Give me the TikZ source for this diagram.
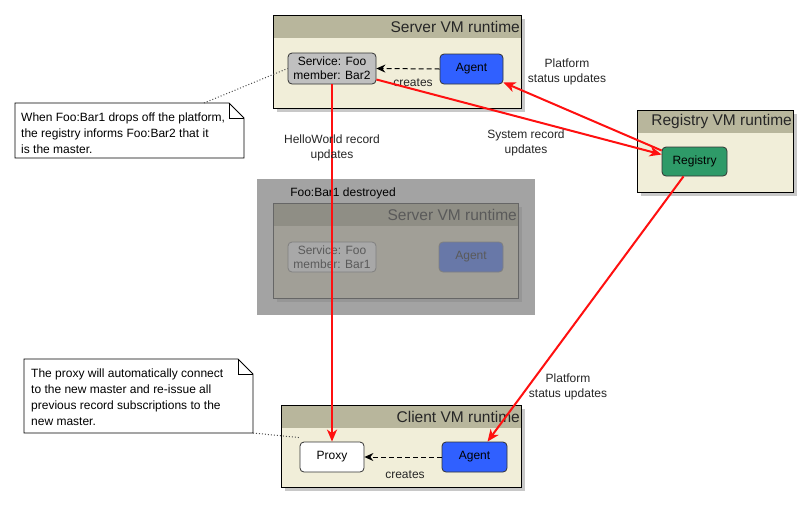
\documentclass[tikz,border=0pt]{standalone}
\usepackage{fontspec}
\setmainfont{Liberation Sans}
\usetikzlibrary{arrows.meta,calc}
\definecolor{hdr}{HTML}{B8B69C}
\definecolor{bodyc}{HTML}{F1EED9}
\definecolor{shd}{HTML}{C8C8C8}
\definecolor{agentblue}{HTML}{3060FF}
\definecolor{svcgray}{HTML}{C0C0C0}
\definecolor{reggreen}{HTML}{2E9A68}
\definecolor{deadbg}{HTML}{A3A3A3}
\definecolor{deadshd}{HTML}{969696}
\definecolor{deadhdr}{HTML}{8F8E85}
\definecolor{deadbody}{HTML}{A19F97}
\definecolor{deadsvc}{HTML}{A8A8A8}
\definecolor{deadagent}{HTML}{6878A8}
\definecolor{deadtext}{HTML}{5A5A5A}
\definecolor{redline}{HTML}{FF1010}
\begin{document}
\begin{tikzpicture}[x=1pt,y=-1pt,
  font=\fontsize{12}{14}\selectfont,
  container/.style={draw=black, line width=1, fill=bodyc, anchor=north west, inner sep=0,
    path picture={\fill[#1] (path picture bounding box.north west) rectangle ([yshift=-22pt]path picture bounding box.north east);}},
  container/.default=hdr,
  hdrtext/.style={anchor=north east, inner sep=0, font=\fontsize{15.5}{17}\selectfont, text=black!85, minimum height=23},
  box/.style={draw=black!80, rounded corners=4, line width=0.8, minimum height=30, align=center, inner sep=1},
  lbl/.style={align=center, font=\fontsize{12}{15}\selectfont, text=black!85},
  notetext/.style={anchor=north west, align=left, inner sep=0, font=\fontsize{12}{15.7}\selectfont},
  redarrow/.style={draw=redline, line width=2, -{Stealth[length=12, width=10, inset=3.5]}},
  dasharrow/.style={draw=black, line width=1, dash pattern=on 5pt off 3pt, -{Stealth[length=9, width=8, inset=3]}},
  dotline/.style={draw=black!70, line width=1, dash pattern=on 1pt off 2pt}
]
\useasboundingbox (0,0) rectangle (810,507);
\fill[white] (0,0) rectangle (810,507);

% ---------- Server VM runtime ----------
\fill[shd] (277,19) rectangle (525,112);
\node[container, minimum width=248, minimum height=93] (srv) at (273,15) {};
\node[hdrtext] at ([xshift=-2pt]srv.north east) {Server VM runtime};
\node[box, fill=svcgray, minimum width=88, minimum height=31] (svc) at (332,68.5) {Service: Foo\\member: Bar2};
\node[box, fill=agentblue, minimum width=63] (agent) at (471.5,69) {Agent};
\draw[dasharrow] (agent.west) -- (svc.east);
\node[lbl] (cr1) at (413,83) {creates};

% ---------- Registry VM runtime ----------
\fill[shd] (641,114) rectangle (797,196);
\node[container, minimum width=156, minimum height=82] (regvm) at (637,110) {};
\node[hdrtext] at ([xshift=-2pt]regvm.north east) {Registry VM runtime};
\node[box, fill=reggreen, minimum width=65, minimum height=29] (reg) at (694.5,161.5) {Registry};

% ---------- destroyed server ----------
\fill[deadbg] (257,179) rectangle (535,315);
\node[lbl, text=black] (dlbl) at (343,193) {Foo:Bar1 destroyed};
\fill[deadshd] (277,207) rectangle (522,302);
\node[container=deadhdr, draw=black!60, fill=deadbody, minimum width=245, minimum height=95] (dsrv) at (273,203) {};
\node[hdrtext, text=deadtext] at ([xshift=-2pt]dsrv.north east) {Server VM runtime};
\node[box, draw=black!50, fill=deadsvc, text=deadtext, minimum width=88] (dsvc) at (332,257) {Service: Foo\\member: Bar1};
\node[box, draw=black!50, fill=deadagent, text=deadtext, minimum width=64] (dagent) at (471,257) {Agent};

% ---------- Client VM runtime ----------
\fill[shd] (285,409) rectangle (525,491);
\node[container, minimum width=240, minimum height=82] (cli) at (281,405) {};
\node[hdrtext] at ([xshift=-2pt]cli.north east) {Client VM runtime};
\node[box, fill=white, minimum width=64] (proxy) at (332,457) {Proxy};
\node[box, fill=agentblue, minimum width=65] (cagent) at (474.5,457) {Agent};
\draw[dasharrow] (cagent.west) -- (proxy.east);
\node[lbl] (cr2) at (405,475) {creates};

% ---------- notes ----------
\draw[line width=0.8, fill=white] (15,103) -- (229,103) -- (244,118) -- (244,158) -- (15,158) -- cycle;
\draw[line width=0.8] (229,103) -- (229,118) -- (244,118);
\node[notetext] (n1) at (21,113) {When Foo:Bar1 drops off the platform,\\the registry informs Foo:Bar2 that it\\is the master.};
\coordinate (n1c) at (204,103);
\draw[dotline] (n1c) -- (svc.west);

\draw[line width=0.8, fill=white] (24,359) -- (238,359) -- (253,374) -- (253,433) -- (24,433) -- cycle;
\draw[line width=0.8] (238,359) -- (238,374) -- (253,374);
\node[notetext] (n2) at (31,369) {The proxy will automatically connect\\to the new master and re-issue all\\previous record subscriptions to the\\new master.};
\coordinate (n2c) at (253,433);
\draw[dotline] (n2c) -- ([yshift=4pt]proxy.north west);

% ---------- red connectors ----------
\draw[redarrow] (svc.south) -- (proxy.north);
\node[lbl] (l1) at (332,148) {HelloWorld record\\updates};
\draw[redarrow] ([yshift=-11pt]svc.east) -- ([yshift=7pt]reg.west);
\node[lbl] (l2) at (526,143) {System record\\updates};
\draw[redarrow] ([yshift=11pt]reg.west) -- ([yshift=2pt]agent.south east);
\node[lbl] (l3) at (567,72) {Platform\\status updates};
\draw[redarrow] ([xshift=-11pt]reg.south) -- ([xshift=13pt]cagent.north);
\node[lbl] (l4) at (568,387) {Platform\\status updates};
\end{tikzpicture}
\end{document}
